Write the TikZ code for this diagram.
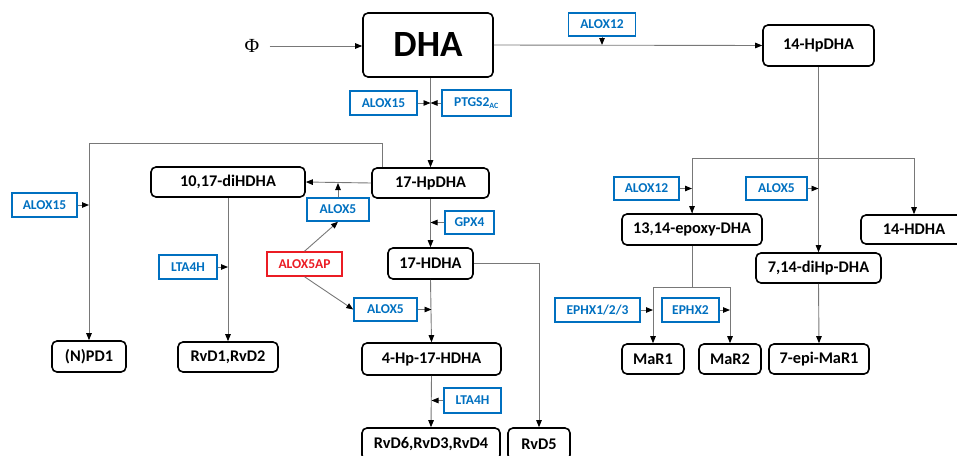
\documentclass[tikz,border=0pt]{standalone}
\usepackage{fontspec}
\setmainfont{Carlito}
\newfontfamily\phifont{Liberation Serif}
\usetikzlibrary{arrows.meta}

\definecolor{enzblue}{RGB}{0,112,192}
\definecolor{enzred}{RGB}{235,28,36}
\definecolor{linegray}{RGB}{120,120,120}

\tikzset{
  met/.style={draw=black, line width=1.6pt, rounded corners=5pt, inner sep=0pt,
    font=\bfseries\fontsize{16.3}{18}\selectfont},
  enz/.style={draw=enzblue, text=enzblue, line width=1.5pt, inner sep=0pt,
    font=\bfseries\fontsize{13.5}{15}\selectfont},
  arr/.style={draw=linegray, line width=0.9pt,
    -{Triangle[length=7pt,width=5.5pt,color=black]}},
  ln/.style={draw=linegray, line width=0.9pt},
}

\begin{document}
\begin{tikzpicture}[x=1pt,y=-1pt]
				\useasboundingbox (0,0) rectangle (957,455);
				
				% Metabolites
				\node[inner sep=0pt, font=\phifont\fontsize{20}{22}\selectfont] (phi) at (252,46) {Φ};
				\node[met, minimum width=130, minimum height=64, font=\bfseries\fontsize{37}{40}\selectfont] (dha) at (428,45) {DHA};
				\node[met, minimum width=111, minimum height=41] (hpdha14) at (818.5,45.5) {14-HpDHA};
				\node[met, minimum width=117, minimum height=30] (hpdha17) at (430.5,183) {17-HpDHA};
				\node[met, minimum width=154, minimum height=30] (dihdha) at (228,182) {10,17-diHDHA};
				\node[met, minimum width=85, minimum height=31] (hdha17) at (430.5,263.5) {17-HDHA};
				\node[met, minimum width=139, minimum height=32] (hp4) at (431.5,359) {4-Hp-17-HDHA};
				\node[met, minimum width=138, minimum height=32] (rvd634) at (431,444) {RvD6,RvD3,RvD4};
				\node[met, minimum width=62, minimum height=32] (rvd5) at (539,444) {RvD5};
				\node[met, minimum width=74, minimum height=31] (npd1) at (89,356.5) {(N)PD1};
				\node[met, minimum width=100, minimum height=30] (rvd12) at (228,357) {RvD1,RvD2};
				\node[met, minimum width=140, minimum height=31] (epoxy) at (692,229.5) {13,14-epoxy-DHA};
				\node[met, minimum width=106, minimum height=29] (hdha14) at (914,229.5) {14-HDHA};
				\node[met, minimum width=125, minimum height=30] (dihp) at (818.5,268) {7,14-diHp-DHA};
				\node[met, minimum width=62, minimum height=30] (mar1) at (653,359) {MaR1};
				\node[met, minimum width=62, minimum height=30] (mar2) at (730,359) {MaR2};
				\node[met, minimum width=100, minimum height=30] (epimar1) at (819,359) {7-epi-MaR1};
				
				% Enzymes
				\node[enz, minimum width=67, minimum height=23] (alox12a) at (602,24.5) {ALOX12};
				\node[enz, minimum width=67, minimum height=24] (alox15a) at (383.5,103) {ALOX15};
				\node[enz, minimum width=69, minimum height=26] (ptgs) at (476.5,103) {PTGS2\textsubscript{\fontsize{8}{9}\selectfont AC}};
				\node[enz, minimum width=62, minimum height=23] (alox5a) at (338,209.5) {ALOX5};
				\node[enz, minimum width=65, minimum height=24] (alox15b) at (44.5,205) {ALOX15};
				\node[enz, minimum width=49, minimum height=23] (gpx4) at (469.5,222.5) {GPX4};
				\node[enz, minimum width=58, minimum height=24] (lta4ha) at (188,267) {LTA4H};
				\node[enz, draw=enzred, text=enzred, minimum width=75, minimum height=24] (alox5ap) at (304.5,264) {ALOX5AP};
				\node[enz, minimum width=63, minimum height=23] (alox5b) at (385.5,309.5) {ALOX5};
				\node[enz, minimum width=57, minimum height=25] (lta4hb) at (472.5,400.5) {LTA4H};
				\node[enz, minimum width=65, minimum height=23] (alox12b) at (646.5,188.5) {ALOX12};
				\node[enz, minimum width=61, minimum height=23] (alox5c) at (776.5,188.5) {ALOX5};
				\node[enz, minimum width=85, minimum height=24] (ephx123) at (597.5,310) {EPHX1/2/3};
				\node[enz, minimum width=57, minimum height=24] (ephx2) at (690.5,310) {EPHX2};
				
				% Junctions
				\coordinate (top17) at (382,143);
				\coordinate (br14) at (819,158);
				\coordinate (brep) at (692,287);
				
				% DHA branch
				\draw[arr] (phi.east) ++(10,0) -- (dha.west |- phi.east);
				\draw[arr] (dha.east) -- (hpdha14.west);
				\draw[arr] (alox12a.south) -- (alox12a.south |- dha.east);
				\draw[arr] (hpdha17.north |- dha.south) -- (hpdha17.north);
				\draw[arr] (alox15a.east) -- (hpdha17.north |- alox15a.east);
				\draw[arr] (ptgs.west) -- (hpdha17.north |- ptgs.west);
				
				% 17-HpDHA branch
				\draw[arr] (top17 |- hpdha17.north) -- (top17) -| (npd1.north);
				\draw[arr] (alox15b.east) -- (npd1.north |- alox15b.east);
				\draw[arr] (hpdha17.west) -- (dihdha.east);
				\draw[arr] (alox5a.north) -- (alox5a.north |- hpdha17.west);
				\draw[arr] (dihdha.south) -- (rvd12.north);
				\draw[arr] (lta4ha.east) -- (rvd12.north |- lta4ha.east);
				\draw[arr] (alox5ap.north) -- (alox5a.south);
				\draw[arr] (alox5ap.south) -- (alox5b.west);
				\draw[arr] (hpdha17.south) -- (hdha17.north);
				\draw[arr] (gpx4.west) -- (hpdha17.south |- gpx4.west);
				\draw[arr] (hdha17.south) -- (hp4.north);
				\draw[arr] (alox5b.east) -- (hp4.north |- alox5b.east);
				\draw[arr] (hdha17.east) -| (rvd5.north);
				\draw[arr] (hp4.south) -- (rvd634.north);
				\draw[arr] (lta4hb.west) -- (hp4.south |- lta4hb.west);
				
				% 14-HpDHA branch
				\draw[arr] (hpdha14.south) -- (dihp.north);
				\draw[ln] (br14) -| (epoxy.north);
				\draw[arr] (br14) -| (hdha14.north);
				\draw[arr] (epoxy.north |- br14) -- (epoxy.north);
				\draw[arr] (alox12b.east) -- (epoxy.north |- alox12b.east);
				\draw[arr] (alox5c.east) -- (dihp.north |- alox5c.east);
				\draw[ln] (epoxy.south) -- (brep);
				\draw[arr] (brep) -| (mar1.north);
				\draw[arr] (brep) -| (mar2.north);
				\draw[arr] (ephx123.east) -- (mar1.north |- ephx123.east);
				\draw[arr] (ephx2.east) -- (mar2.north |- ephx2.east);
				\draw[arr] (dihp.south) -- (epimar1.north);
\end{tikzpicture}
\end{document}
